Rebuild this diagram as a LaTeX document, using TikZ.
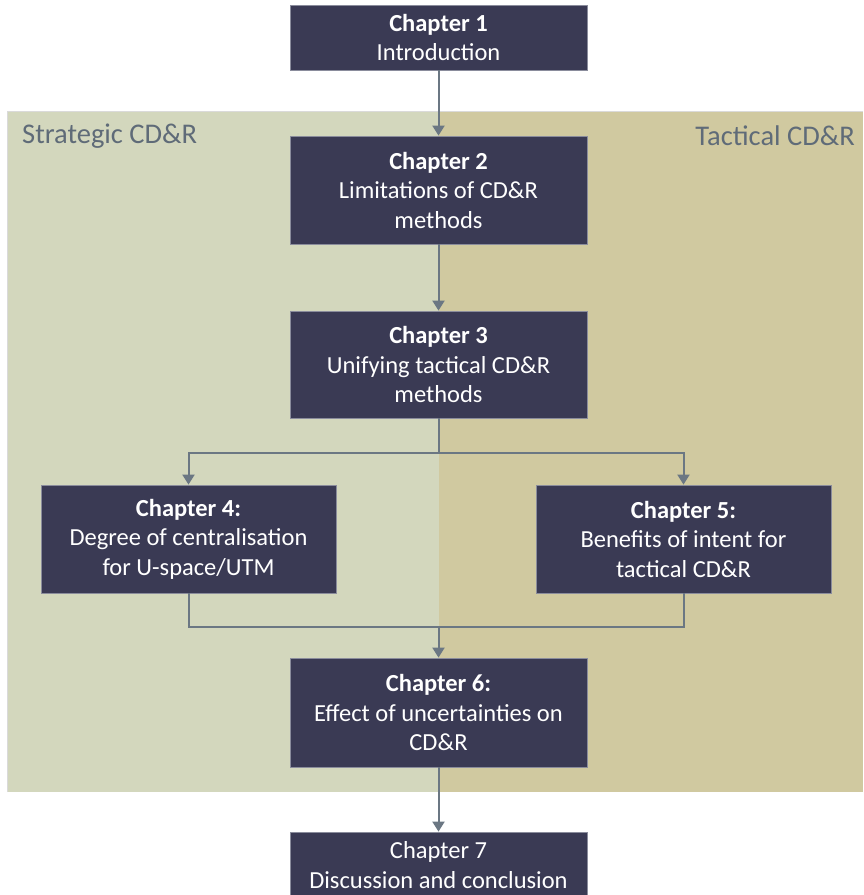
\documentclass[tikz,border=0pt]{standalone}
\usepackage{fontspec}
\setmainfont{Carlito}
\usetikzlibrary{arrows.meta}
\definecolor{boxfill}{HTML}{3A3A54}
\definecolor{boxline}{HTML}{8A8C9C}
\definecolor{leftbg}{HTML}{D3D7BD}
\definecolor{rightbg}{HTML}{D0C9A0}
\definecolor{labelcol}{HTML}{5F6B78}
\definecolor{arrowcol}{HTML}{6B7783}
\definecolor{bgline}{HTML}{DADADA}
\begin{document}
\begin{tikzpicture}[x=1pt,y=-1pt,
  chapbox/.style={rectangle, fill=boxfill, draw=boxline, line width=0.8pt,
    text=white, align=center, inner sep=0pt,
    font=\fontsize{24.5}{29.5}\selectfont},
  wide/.style={minimum width=297pt},
  conn/.style={draw=arrowcol, line width=2pt},
  arr/.style={conn, -{Triangle[length=10pt,width=12pt]}},
  zonelabel/.style={text=labelcol, font=\fontsize{28.5}{32}\selectfont, inner sep=0pt}
]
\useasboundingbox (0,0) rectangle (863,895);
\fill[white] (0,0) rectangle (863,895);
% background zones
\fill[leftbg] (7,111) rectangle (439,792);
\fill[rightbg] (439,111) rectangle (863,792);
\draw[bgline, line width=0.8pt] (7,792) -- (7,111) -- (863,111);
\node[zonelabel, anchor=west] (strat) at (22,136) {Strategic CD\&R};
\node[zonelabel, anchor=east] (tact) at (855,136) {Tactical CD\&R};
% boxes
\node[chapbox, wide, minimum height=65pt] (c1) at (438.5,37.5) {\textbf{Chapter 1}\\Introduction};
\node[chapbox, wide, minimum height=108pt] (c2) at (438.5,190) {\textbf{Chapter 2}\\Limitations of CD\&R\\methods};
\node[chapbox, wide, minimum height=107pt] (c3) at (438.5,364.5) {\textbf{Chapter 3}\\Unifying tactical CD\&R\\methods};
\node[chapbox, minimum width=295pt, minimum height=108pt] (c4) at (188.5,539) {\textbf{Chapter 4:}\\Degree of centralisation\\for U-space/UTM};
\node[chapbox, minimum width=295pt, minimum height=108pt] (c5) at (683.5,539) {\textbf{Chapter 5:}\\Benefits of intent for\\tactical CD\&R};
\node[chapbox, wide, minimum height=109pt] (c6) at (438.5,712.5) {\textbf{Chapter 6:}\\Effect of uncertainties on\\CD\&R};
\node[chapbox, wide, minimum height=66pt] (c7) at (438.5,865) {Chapter 7\\Discussion and conclusion};
% connectors
\coordinate (split) at (438.5,453);
\coordinate (join) at (438.5,627);
\draw[arr] (c1.south) -- (c2.north);
\draw[arr] (c2.south) -- (c3.north);
\draw[conn] (c3.south) -- (split);
\draw[arr] (split) -| (c4.north);
\draw[arr] (split) -| (c5.north);
\draw[conn] (c4.south) |- (join);
\draw[conn] (c5.south) |- (join);
\draw[arr] (join) -- (c6.north);
\draw[arr] (c6.south) -- (c7.north);
\end{tikzpicture}
\end{document}
